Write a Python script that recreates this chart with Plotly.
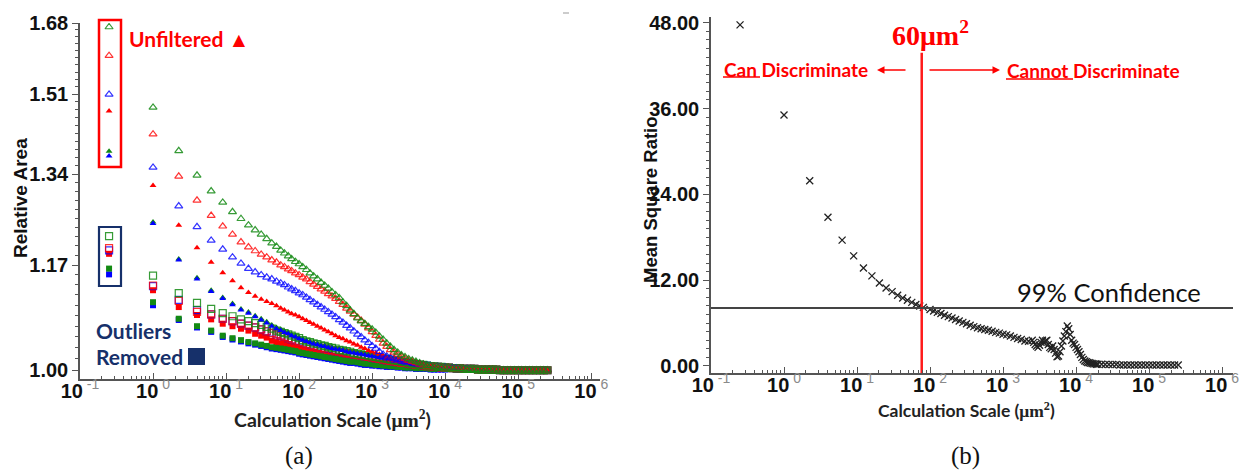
import math
import plotly.graph_objects as go

W, H = 1248, 473

# ---------------- panel (a) data ----------------
scale_a = [0.25, 1, 2.25, 4, 6.25, 9, 12.25, 16, 20.25, 25, 30.25, 36, 42.25, 49,
           56, 63, 71, 79, 89, 100, 112, 126, 141, 158, 178, 200, 224, 251, 282, 316, 355, 398, 447,
           501, 562, 631, 708, 794, 891, 1000, 1122, 1259, 1413, 1585, 1778, 1995, 2239, 2512, 2818,
           3162, 3548, 3981, 4467, 5012, 5623, 6310, 7079, 7943, 8913, 10000,
           11220, 12589, 14125, 15849, 17783, 19953, 22387, 25119, 28184, 31623, 35481, 39811, 44668,
           50119, 56234, 63096, 70795, 79433, 89125, 100000, 112202, 125893, 141254, 158489, 177828,
           199526, 223872, 251189]

tail_1 = [1.003, 1.002, 1.002, 1.002, 1.002, 1.001, 1.001, 1.001, 1.001, 1.001, 1.001, 1.001, 1.000, 1.000,
          1.000, 1.000, 1.000, 1.000, 1.000, 1.000, 1.000, 1.000, 1.000, 1.000, 1.000, 1.000, 1.000, 1.000]
tail_2 = [1.003, 1.003, 1.003, 1.002, 1.002, 1.002, 1.001, 1.001, 1.001, 1.001, 1.001, 1.001, 1.000, 1.000,
          1.000, 1.000, 1.000, 1.000, 1.000, 1.000, 1.000, 1.000, 1.000, 1.000, 1.000, 1.000, 1.000, 1.000]
tail_3 = [1.004, 1.003, 1.003, 1.003, 1.002, 1.002, 1.002, 1.002, 1.001, 1.001, 1.001, 1.001, 1.001, 1.001,
          1.000, 1.000, 1.000, 1.000, 1.000, 1.000, 1.000, 1.000, 1.000, 1.000, 1.000, 1.000, 1.000, 1.000]
tail_4 = [1.002, 1.002, 1.001, 1.001, 1.001, 1.001, 1.001, 1.001, 1.001, 1.001, 1.001, 1.001, 1.000, 1.000,
          1.000, 1.000, 1.000, 1.000, 1.000, 1.000, 1.000, 1.000, 1.000, 1.000, 1.000, 1.000, 1.000, 1.000]

# unfiltered: open triangles
tri_open_green = [1.670, 1.481, 1.388, 1.338, 1.307, 1.285, 1.267, 1.254, 1.242, 1.233, 1.225, 1.217, 1.209, 1.203,
                  1.196, 1.191, 1.186, 1.181, 1.176, 1.172, 1.167, 1.162, 1.156, 1.151, 1.146, 1.140, 1.135, 1.130,
                  1.124, 1.119, 1.114, 1.107, 1.101, 1.094, 1.088, 1.081, 1.076, 1.072, 1.067, 1.063, 1.058, 1.052,
                  1.047, 1.041, 1.036, 1.031, 1.027, 1.023, 1.020, 1.017, 1.015, 1.013, 1.011, 1.009, 1.007, 1.006,
                  1.005, 1.004, 1.004, 1.003] + tail_1
tri_open_red = [1.600, 1.423, 1.336, 1.289, 1.260, 1.240, 1.225, 1.211, 1.202, 1.195, 1.189, 1.184, 1.179, 1.175,
                1.170, 1.167, 1.163, 1.160, 1.156, 1.153, 1.149, 1.146, 1.141, 1.137, 1.133, 1.129, 1.125, 1.121,
                1.117, 1.113, 1.108, 1.103, 1.097, 1.092, 1.087, 1.082, 1.077, 1.071, 1.065, 1.059, 1.053, 1.047,
                1.041, 1.036, 1.031, 1.027, 1.024, 1.021, 1.018, 1.015, 1.013, 1.011, 1.009, 1.008, 1.006, 1.005,
                1.005, 1.004, 1.004, 1.003] + tail_1
tri_open_blue = [1.510, 1.354, 1.278, 1.239, 1.214, 1.198, 1.184, 1.173, 1.164, 1.158, 1.153, 1.149, 1.146, 1.142,
                 1.139, 1.136, 1.132, 1.129, 1.126, 1.122, 1.119, 1.115, 1.111, 1.107, 1.103, 1.099, 1.095, 1.091,
                 1.087, 1.083, 1.078, 1.074, 1.069, 1.065, 1.060, 1.055, 1.051, 1.046, 1.042, 1.037, 1.033, 1.028,
                 1.024, 1.021, 1.019, 1.017, 1.016, 1.015, 1.013, 1.012, 1.011, 1.010, 1.009, 1.008, 1.007, 1.006,
                 1.005, 1.005, 1.004, 1.004] + tail_2
# unfiltered: filled triangles
tri_fill_red = [1.473, 1.318, 1.242, 1.201, 1.175, 1.157, 1.143, 1.131, 1.123, 1.117, 1.112, 1.108, 1.105, 1.101,
                1.097, 1.094, 1.091, 1.088, 1.086, 1.083, 1.080, 1.077, 1.074, 1.071, 1.068, 1.065, 1.062, 1.059,
                1.056, 1.053, 1.050, 1.048, 1.045, 1.043, 1.040, 1.038, 1.035, 1.033, 1.030, 1.028, 1.026, 1.024,
                1.022, 1.019, 1.017, 1.015, 1.014, 1.013, 1.012, 1.011, 1.010, 1.009, 1.008, 1.008, 1.007, 1.006,
                1.005, 1.005, 1.004, 1.004] + tail_2
tri_fill_green = [1.387, 1.248, 1.181, 1.148, 1.127, 1.115, 1.105, 1.096, 1.091, 1.085, 1.080, 1.075, 1.070, 1.066,
                  1.063, 1.060, 1.058, 1.055, 1.053, 1.050, 1.048, 1.046, 1.044, 1.042, 1.041, 1.039, 1.038, 1.036,
                  1.035, 1.034, 1.033, 1.032, 1.030, 1.029, 1.028, 1.027, 1.026, 1.025, 1.024, 1.023, 1.022, 1.020,
                  1.019, 1.018, 1.017, 1.015, 1.014, 1.013, 1.012, 1.011, 1.010, 1.009, 1.008, 1.007, 1.007, 1.006,
                  1.005, 1.005, 1.004, 1.004] + tail_2
tri_fill_blue = [1.377, 1.245, 1.179, 1.146, 1.125, 1.113, 1.103, 1.094, 1.089, 1.083, 1.078, 1.073, 1.068, 1.064,
                 1.061, 1.058, 1.056, 1.053, 1.051, 1.048, 1.046, 1.044, 1.042, 1.040, 1.039, 1.037, 1.036, 1.034,
                 1.033, 1.032, 1.031, 1.030, 1.028, 1.027, 1.026, 1.025, 1.024, 1.023, 1.022, 1.021, 1.020, 1.019,
                 1.018, 1.017, 1.016, 1.014, 1.013, 1.012, 1.011, 1.010, 1.009, 1.008, 1.007, 1.007, 1.006, 1.005,
                 1.005, 1.004, 1.004, 1.003] + tail_1
# outliers removed: open squares
sq_open_green = [1.222, 1.152, 1.122, 1.106, 1.096, 1.089, 1.084, 1.079, 1.076, 1.073, 1.070, 1.067, 1.064, 1.061,
                 1.059, 1.057, 1.055, 1.053, 1.051, 1.049, 1.046, 1.044, 1.043, 1.041, 1.040, 1.038, 1.037, 1.035,
                 1.034, 1.033, 1.031, 1.030, 1.029, 1.028, 1.026, 1.025, 1.024, 1.023, 1.022, 1.021, 1.020, 1.019,
                 1.018, 1.017, 1.016, 1.015, 1.014, 1.013, 1.012, 1.011, 1.010, 1.009, 1.008, 1.008, 1.007, 1.006,
                 1.006, 1.005, 1.005, 1.004] + tail_3
sq_open_red = [1.200, 1.135, 1.109, 1.091, 1.087, 1.080, 1.076, 1.072, 1.069, 1.066, 1.063, 1.060, 1.057, 1.055,
               1.053, 1.051, 1.049, 1.047, 1.045, 1.043, 1.041, 1.040, 1.038, 1.037, 1.035, 1.034, 1.033, 1.031,
               1.030, 1.029, 1.028, 1.027, 1.026, 1.025, 1.024, 1.023, 1.022, 1.021, 1.020, 1.019, 1.018, 1.017,
               1.016, 1.015, 1.014, 1.013, 1.012, 1.011, 1.011, 1.010, 1.009, 1.008, 1.008, 1.007, 1.006, 1.006,
               1.005, 1.005, 1.004, 1.004] + tail_3
sq_open_blue = [1.196, 1.134, 1.111, 1.094, 1.087, 1.080, 1.076, 1.072, 1.069, 1.066, 1.063, 1.060, 1.058, 1.055,
                1.053, 1.051, 1.049, 1.047, 1.045, 1.044, 1.042, 1.040, 1.039, 1.037, 1.036, 1.034, 1.033, 1.032,
                1.030, 1.029, 1.028, 1.027, 1.026, 1.025, 1.024, 1.023, 1.022, 1.021, 1.020, 1.019, 1.018, 1.017,
                1.016, 1.015, 1.014, 1.013, 1.012, 1.012, 1.011, 1.010, 1.009, 1.009, 1.008, 1.007, 1.007, 1.006,
                1.005, 1.005, 1.004, 1.004] + tail_3
# outliers removed: filled squares
sq_fill_red = [1.190, 1.127, 1.099, 1.086, 1.079, 1.072, 1.068, 1.064, 1.061, 1.056, 1.053, 1.050, 1.045, 1.043,
               1.041, 1.040, 1.038, 1.037, 1.035, 1.033, 1.031, 1.030, 1.028, 1.027, 1.026, 1.025, 1.024, 1.023,
               1.022, 1.021, 1.020, 1.019, 1.018, 1.017, 1.017, 1.016, 1.015, 1.014, 1.013, 1.013, 1.012, 1.011,
               1.011, 1.010, 1.010, 1.009, 1.009, 1.008, 1.008, 1.007, 1.007, 1.006, 1.006, 1.005, 1.005, 1.005,
               1.004, 1.004, 1.004, 1.003] + tail_2
sq_fill_green = [1.164, 1.107, 1.080, 1.068, 1.061, 1.053, 1.049, 1.046, 1.043, 1.041, 1.039, 1.037, 1.035, 1.034,
                 1.033, 1.032, 1.031, 1.030, 1.029, 1.027, 1.026, 1.025, 1.024, 1.023, 1.022, 1.021, 1.020, 1.019,
                 1.018, 1.017, 1.016, 1.015, 1.014, 1.013, 1.013, 1.012, 1.011, 1.010, 1.010, 1.009, 1.008, 1.008,
                 1.007, 1.007, 1.006, 1.006, 1.005, 1.005, 1.004, 1.004, 1.004, 1.003, 1.003, 1.003, 1.003, 1.002,
                 1.002, 1.002, 1.002, 1.002] + tail_4
sq_fill_blue = [1.154, 1.102, 1.078, 1.066, 1.059, 1.051, 1.047, 1.044, 1.041, 1.039, 1.037, 1.035, 1.033, 1.032,
                1.031, 1.030, 1.029, 1.028, 1.027, 1.025, 1.024, 1.023, 1.022, 1.021, 1.020, 1.019, 1.018, 1.017,
                1.016, 1.015, 1.014, 1.013, 1.012, 1.011, 1.011, 1.010, 1.009, 1.008, 1.008, 1.007, 1.007, 1.006,
                1.006, 1.005, 1.005, 1.005, 1.004, 1.004, 1.003, 1.003, 1.003, 1.002, 1.002, 1.002, 1.002, 1.001,
                1.001, 1.001, 1.001, 1.001] + tail_4

# ---------------- panel (b) data ----------------
scale_b = [0.25, 1, 2.25, 4, 6.25, 9, 12.25, 16, 20.25, 25, 30.25, 36, 42.25, 49, 56.25, 64, 72.25, 81,
           100, 112, 126, 141, 158, 178, 200, 224, 251, 282, 316, 355, 398, 447, 501, 562, 631, 708, 794, 891,
           1000, 1122, 1259, 1413, 1585, 1778, 1995, 2239, 2512,
           2630, 2754, 2884, 3020, 3162, 3311, 3467, 3631, 3802, 3981, 4169, 4365, 4571, 4786, 5012, 5248, 5495,
           5754, 6026, 6310, 6607, 6918, 7244, 7586, 7943, 8318, 8710, 9120, 9550, 10000, 10471, 10965, 11482,
           12023, 12589, 13183, 13804, 14454, 15136, 15849, 16596, 17378, 18197, 19055, 19953,
           22387, 25119, 28184, 31623, 35481, 39811, 44668, 50119, 56234, 63096, 70795, 79433, 89125, 100000,
           112202, 125893, 141254, 158489, 177828, 199526, 223872, 251189]
mean_square_ratio = [47.7, 35.1, 25.9, 20.8, 17.6, 15.4, 13.7, 12.6, 11.6, 10.9, 10.4, 9.9, 9.5, 9.2, 8.9, 8.6, 8.4, 8.2,
                     7.9, 7.7, 7.5, 7.35, 7.1, 6.9, 6.7, 6.5, 6.3, 6.1, 5.9, 5.7, 5.5, 5.35, 5.2, 5.1, 5.0, 4.85, 4.7, 4.6,
                     4.45, 4.35, 4.2, 4.0, 3.85, 3.7, 3.5, 3.45, 3.6,
                     3.3, 3.0, 2.8, 2.6, 2.9, 3.3, 3.6, 3.2, 3.5, 3.6, 3.0, 2.6, 2.4, 2.8, 2.3, 1.8, 1.3,
                     1.4, 2.0, 2.8, 3.5, 4.2, 4.8, 5.6, 5.2, 4.4, 3.6, 3.2, 3.0, 2.6, 2.3, 2.0, 1.6,
                     1.2, 0.9, 0.7, 0.6, 0.5, 0.45, 0.4, 0.35, 0.3, 0.3, 0.25, 0.25,
                     0.25, 0.2, 0.2, 0.2, 0.2, 0.15, 0.15, 0.15, 0.15, 0.15, 0.15, 0.15, 0.15, 0.15,
                     0.15, 0.15, 0.15, 0.15, 0.15, 0.15, 0.15, 0.15]
confidence_99 = 8.1
threshold_scale = 77
threshold_top = 43.8

# tick labels
y_a_ticks = [1.00, 1.17, 1.34, 1.51, 1.68]
y_a_labels = ["1.00", "1.17", "1.34", "1.51", "1.68"]
y_b_ticks = [0, 12, 24, 36, 48]
y_b_labels = ["0.00", "12.00", "24.00", "36.00", "48.00"]
x_ticks = [0.1, 1, 10, 100, 1000, 10000, 100000, 1000000]
x_exps = ["-1", "0", "1", "2", "3", "4", "5", "6"]
x_labels = ["<b>10</b><span style='color:#8a8a8a'><sup> %s</sup></span>" % e for e in x_exps]

for s in [tri_open_green, tri_open_red, tri_open_blue, tri_fill_red, tri_fill_green, tri_fill_blue,
          sq_open_green, sq_open_red, sq_open_blue, sq_fill_red, sq_fill_green, sq_fill_blue]:
    assert len(s) == len(scale_a), len(s)
assert len(mean_square_ratio) == len(scale_b), (len(mean_square_ratio), len(scale_b))

GREEN = "#138a13"
RED = "#ff0000"
BLUE = "#0000ff"
NAVY = "#16306a"
AX = "#555555"

fig = go.Figure()


def add(y, sym, color, size, opacity=1.0, lw=1.0):
    fig.add_trace(go.Scatter(
        x=scale_a, y=y, mode="markers", xaxis="x", yaxis="y", showlegend=False, hoverinfo="skip",
        marker=dict(symbol=sym, size=size, color=color, opacity=opacity, line=dict(color=color, width=lw))))


add(sq_fill_blue, "square", BLUE, 6, lw=0)
add(sq_fill_red, "square", RED, 6, lw=0)
add(sq_fill_green, "square", GREEN, 6, lw=0)
add(sq_open_blue, "square-open", BLUE, 7, 0.8, 1.2)
add(sq_open_red, "square-open", RED, 7, 0.8, 1.2)
add(sq_open_green, "square-open", GREEN, 7, 0.85, 1.2)
add(tri_fill_green, "triangle-up", GREEN, 6, lw=0)
add(tri_fill_blue, "triangle-up", BLUE, 6, lw=0)
add(tri_fill_red, "triangle-up", RED, 6, lw=0)
add(tri_open_blue, "triangle-up-open", BLUE, 7, 0.8, 1.2)
add(tri_open_red, "triangle-up-open", RED, 7, 0.8, 1.2)
add(tri_open_green, "triangle-up-open", GREEN, 7, 0.85, 1.2)

fig.add_trace(go.Scatter(
    x=scale_b, y=mean_square_ratio, mode="markers", xaxis="x2", yaxis="y2", showlegend=False,
    hoverinfo="skip", marker=dict(symbol="x-thin-open", size=7, color="#222222", line=dict(color="#222222", width=1.3))))

# 60 um^2 threshold line
fig.add_trace(go.Scatter(
    x=[threshold_scale, threshold_scale], y=[-0.98, threshold_top], mode="lines", xaxis="x2", yaxis="y2",
    showlegend=False, hoverinfo="skip", line=dict(color="#ff1a1a", width=2.5), cliponaxis=False))


def px(x):
    return x / W


def py(y):
    return 1 - y / H


minor_x = [k * 10.0 ** d for d in range(-1, 6) for k in range(2, 10)]
tickfont = dict(family="Liberation Sans, Arial", size=20, color="#111111")

common_x = dict(type="log", showline=True, linecolor=AX, linewidth=1.5, ticks="inside", ticklen=6,
                tickwidth=1, tickcolor=AX, tickmode="array", tickvals=x_ticks, ticktext=x_labels,
                tickfont=tickfont, showgrid=False, zeroline=False, automargin=False, ticklabelstandoff=-7,
                minor=dict(ticks="inside", ticklen=3, tickcolor=AX, tickwidth=1, tickmode="array",
                           tickvals=minor_x, showgrid=False))

fig.update_layout(
    width=W, height=H, margin=dict(l=0, r=0, t=0, b=0, pad=0, autoexpand=False),
    paper_bgcolor="white", plot_bgcolor="white", hovermode=False,
    xaxis=dict(common_x, domain=[px(80), px(600)], range=[-1.0, 6.12], anchor="y"),
    yaxis=dict(type="log", domain=[py(379), py(23)], range=[math.log10(0.987), math.log10(1.68)],
               anchor="x", showline=True, linecolor=AX, linewidth=1.5, ticks="outside", ticklen=6,
               tickwidth=1, tickcolor=AX, tickmode="array", tickvals=y_a_ticks, ticktext=y_a_labels,
               tickfont=dict(tickfont, weight="bold"), showgrid=False, zeroline=False, automargin=False,
               minor=dict(ticks="outside", ticklen=3, tickcolor=AX, tickmode="array",
                          tickvals=[round(1 + 0.017 * i, 3) for i in range(1, 40) if i % 10 != 0],
                          showgrid=False)),
    xaxis2=dict(common_x, domain=[px(711), px(1233)], range=[-1.0, 6.15], anchor="y2"),
    yaxis2=dict(domain=[py(373), py(17)], range=[-0.98, 48.8], anchor="x2", showline=True, linecolor=AX,
                linewidth=1.5, ticks="outside", ticklen=6, tickwidth=1, tickcolor=AX, tickmode="array",
                tickvals=y_b_ticks, ticktext=y_b_labels, tickfont=dict(tickfont, weight="bold"),
                showgrid=False, zeroline=False, automargin=False,
                minor=dict(ticks="outside", ticklen=3, tickcolor=AX, dtick=1.2, showgrid=False)),
)

shapes = [
    # 99% confidence line
    dict(type="line", xref="x2 domain", yref="y2", x0=0, x1=1, y0=confidence_99, y1=confidence_99,
         line=dict(color="#444444", width=2)),
    # boxes on panel (a)
    dict(type="rect", xref="paper", yref="paper", x0=px(99), x1=px(121), y0=py(167), y1=py(20),
         line=dict(color="#ff0000", width=2.5)),
    dict(type="rect", xref="paper", yref="paper", x0=px(99), x1=px(121), y0=py(286), y1=py(227),
         line=dict(color=NAVY, width=2.2)),
    dict(type="rect", xref="paper", yref="paper", x0=px(188), x1=px(205), y0=py(365), y1=py(348),
         fillcolor=NAVY, line=dict(color=NAVY, width=0)),
    # underlines
    dict(type="line", xref="paper", yref="paper", x0=px(723), x1=px(760), y0=py(77), y1=py(77),
         line=dict(color="#ff0000", width=1.5)),
    dict(type="line", xref="paper", yref="paper", x0=px(1006), x1=px(1073), y0=py(79), y1=py(79),
         line=dict(color="#ff0000", width=1.5)),
    # small mark at top
    dict(type="line", xref="paper", yref="paper", x0=px(563), x1=px(569), y0=py(13), y1=py(13),
         line=dict(color="#999999", width=1)),
]
fig.update_layout(shapes=shapes)

LATO = "Lato, Liberation Sans"
ann = [
    dict(text="<b>Unfiltered ▲</b>", x=px(127), y=py(38), xanchor="left", yanchor="middle",
         font=dict(family=LATO, size=21, color="#ff0000")),
    dict(text="<b>Outliers</b>", x=px(94), y=py(330), xanchor="left", yanchor="middle",
         font=dict(family=LATO, size=21, color=NAVY)),
    dict(text="<b>Removed</b>", x=px(94), y=py(356), xanchor="left", yanchor="middle",
         font=dict(family=LATO, size=21, color=NAVY)),
    dict(text="<b>Relative Area</b>", x=px(20), y=py(198), xanchor="center", yanchor="middle", textangle=-90,
         font=dict(family="Liberation Sans, Arial", size=19, color="#111111")),
    dict(text="<b>Mean Square Ratio</b>", x=px(650), y=py(200), xanchor="center", yanchor="middle",
         textangle=-90, font=dict(family="Liberation Sans, Arial", size=18.5, color="#111111")),
    dict(text="<b>Calculation Scale (<span style='font-family:Liberation Serif'>μm<sup>2</sup></span>)</b>",
         x=px(332), y=py(419), xanchor="center", yanchor="middle",
         font=dict(family=LATO, size=19.5, color="#222222")),
    dict(text="<b>Calculation Scale (<span style='font-family:Liberation Serif'>μm<sup>2</sup></span>)</b>",
         x=px(966), y=py(410), xanchor="center", yanchor="middle",
         font=dict(family=LATO, size=17.5, color="#222222")),
    dict(text="(a)", x=px(299), y=py(456), xanchor="center", yanchor="middle",
         font=dict(family="Liberation Serif, Times New Roman", size=25, color="#111111")),
    dict(text="(b)", x=px(965), y=py(456), xanchor="center", yanchor="middle",
         font=dict(family="Liberation Serif, Times New Roman", size=25, color="#111111")),
    dict(text="<b>60μm<sup>2</sup></b>", x=px(930), y=py(33), xanchor="center", yanchor="middle",
         font=dict(family="Liberation Serif, Times New Roman", size=28, color="#ff0000")),
    dict(text="<b>Can Discriminate</b>", x=px(722), y=py(69), xanchor="left", yanchor="middle",
         font=dict(family=LATO, size=19, color="#ff0000")),
    dict(text="<b>Cannot Discriminate</b>", x=px(1005), y=py(70), xanchor="left", yanchor="middle",
         font=dict(family=LATO, size=19, color="#ff0000")),
    dict(text="99% Confidence", x=px(1015), y=py(292), xanchor="left", yanchor="middle",
         font=dict(family=LATO, size=25.5, color="#111111")),
    # arrows
    dict(text="", x=px(877), y=py(70), ax=30, ay=0, showarrow=True, arrowhead=2, arrowsize=1,
         arrowwidth=1.5, arrowcolor="#ff0000"),
    dict(text="", x=px(1000), y=py(70), ax=-72, ay=0, showarrow=True, arrowhead=2, arrowsize=1,
         arrowwidth=1.5, arrowcolor="#ff0000"),
]
for a in ann:
    a.setdefault("showarrow", False)
    a["xref"] = "paper"
    a["yref"] = "paper"
fig.update_layout(annotations=ann)

fig.write_html("out.html")
